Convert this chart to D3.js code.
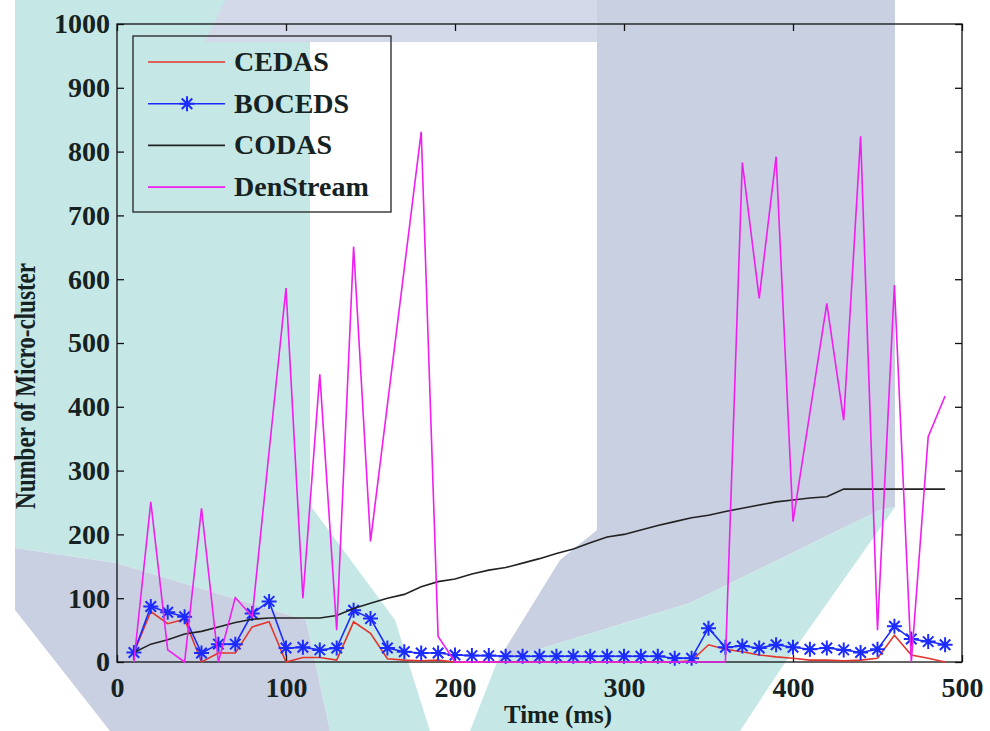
<!doctype html>
<html>
<head>
<meta charset="utf-8">
<script src="https://d3js.org/d3.v7.min.js"></script>
<title>Micro-cluster count over time</title>
<style>
  body { margin: 0; background: #fff; }
  svg text { font-family: "Liberation Serif", "Times New Roman", serif; font-weight: bold; fill: #162222; }
</style>
</head>
<body>
<svg width="990" height="731"></svg>
<script>

// time stamps (ms)
var times = [10,20,30,40,50,60,70,80,90,100,
             110,120,130,140,150,160,170,180,190,200,
             210,220,230,240,250,260,270,280,290,300,
             310,320,330,340,350,360,370,380,390,400,
             410,420,430,440,450,460,470,480,490];

var cedas = [15,79,60,67,0,14,14,55,63,0,
             7,7,3,63,45,5,3,2,3,0,
             0,0,0,0,0,0,0,0,0,0,
             0,0,0,2,27,20,16,11,8,6,
             3,3,2,3,6,42,11,6,0];

var boceds = [15,87,78,71,14,28,28,76,95,22,
              23,19,22,81,68,22,16,14,14,11,
              10,10,9,9,9,9,9,9,9,9,
              9,9,6,6,53,23,25,22,27,23,
              20,22,19,15,20,56,36,32,27];

var codas = [15,28,35,44,48,55,62,67,69,69,
             69,69,73,84,92,100,106,118,126,130,
             138,144,148,155,162,170,177,187,196,200,
             207,214,220,226,230,236,241,246,251,254,
             257,259,271,271,271,271,271,271,271];

var denstream = [0,251,19,0,241,0,101,71,330,586,
                 100,451,50,651,189,403,617,831,40,0,
                 0,0,0,0,0,0,0,0,0,0,
                 0,0,0,0,0,0,783,570,792,220,
                 391,562,379,824,50,591,0,353,417];

var seriesNames = ["CEDAS", "BOCEDS", "CODAS", "DenStream"];
var seriesColors = ["#e3352b", "#1c2cff", "#222222", "#f01ef0"];
var xTicks = [0,100,200,300,400,500];
var yTicks = [0,100,200,300,400,500,600,700,800,900,1000];

var svg = d3.select("svg");

// faint logo watermark behind the chart
var teal = "#c5e8e6", grey = "#c9d0e2";
var shapes = [
  {c: teal, p: [[15,0],[310,0],[310,505],[395,620],[430,731],[330,731],[306,620],[116,563],[15,548]]},
  {c: grey, p: [[15,548],[116,563],[306,620],[330,731],[110,731],[15,610]]},
  {c: "#d4d9ea", p: [[225,0],[597,0],[597,42],[205,42]]},
  {c: grey, p: [[597,0],[895,0],[895,507],[880,510],[690,603],[497,662],[560,560],[597,530]]},
  {c: teal, p: [[497,662],[690,603],[880,510],[895,507],[780,670],[740,731],[470,731]]}
];
svg.append("g").selectAll("polygon")
   .data(shapes)
   .enter().append("polygon")
   .attr("points", function(d) { return d.p.join(" "); })
   .attr("fill", function(d) { return d.c; });

var padL = 117, padR = 962, padT = 24, padB = 662;

var x = d3.scaleLinear().domain([0, 500]).range([padL, padR]);
var y = d3.scaleLinear().domain([0, 1000]).range([padB, padT]);

// frame
svg.append("rect")
   .attr("x", padL).attr("y", padT)
   .attr("width", padR - padL).attr("height", padB - padT)
   .attr("fill", "none").attr("stroke", "#111").attr("stroke-width", 1.3);

function styleAxis(g) {
  g.select(".domain").remove();
  g.selectAll(".tick line").attr("stroke", "#111").attr("stroke-width", 1.3);
  g.selectAll("text").attr("font-size", "28px").attr("fill", "#162222")
   .attr("font-family", "Liberation Serif, serif").attr("font-weight", "bold");
}

svg.append("g")
   .attr("transform", "translate(0," + padB + ")")
   .call(d3.axisBottom(x).tickValues(xTicks).tickSizeInner(-7).tickSizeOuter(0).tickPadding(15).tickFormat(d3.format("d")))
   .call(styleAxis);

svg.append("g")
   .attr("transform", "translate(0," + padT + ")")
   .call(d3.axisTop(x).tickValues(xTicks).tickSizeInner(-7).tickSizeOuter(0).tickFormat(""))
   .call(styleAxis);

svg.append("g")
   .attr("transform", "translate(" + padL + ",0)")
   .call(d3.axisLeft(y).tickValues(yTicks).tickSizeInner(-7).tickSizeOuter(0).tickPadding(7).tickFormat(d3.format("d")))
   .call(styleAxis);

svg.append("g")
   .attr("transform", "translate(" + padR + ",0)")
   .call(d3.axisRight(y).tickValues(yTicks).tickSizeInner(-7).tickSizeOuter(0).tickFormat(""))
   .call(styleAxis);

// axis titles (narrow, condensed lettering as in the source)
svg.append("text")
   .attr("x", 558).attr("y", 723)
   .attr("text-anchor", "middle")
   .attr("font-size", "26px")
   .attr("textLength", 108)
   .attr("lengthAdjust", "spacingAndGlyphs")
   .text("Time (ms)");

svg.append("text")
   .attr("transform", "translate(35,386) rotate(-90)")
   .attr("text-anchor", "middle")
   .attr("font-size", "30px")
   .attr("textLength", 246)
   .attr("lengthAdjust", "spacingAndGlyphs")
   .text("Number of Micro-cluster");

// lines
var allSeries = [cedas, boceds, codas, denstream];
var line = d3.line()
   .x(function(d, i) { return x(times[i]); })
   .y(function(d) { return y(d); });

var plot = svg.append("g");

function star(r) {
  var a = r * 0.7;
  return "M" + (-r) + ",0L" + r + ",0M0," + (-r) + "L0," + r +
         "M" + (-a) + "," + (-a) + "L" + a + "," + a +
         "M" + (-a) + "," + a + "L" + a + "," + (-a);
}

allSeries.forEach(function(s, k) {
  plot.append("path")
      .datum(s)
      .attr("d", line)
      .attr("fill", "none")
      .attr("stroke", seriesColors[k])
      .attr("stroke-width", 1.6);
  if (k == 1) {
    plot.selectAll(".star")
        .data(s)
        .enter().append("path")
        .attr("class", "star")
        .attr("transform", function(d, i) { return "translate(" + x(times[i]) + "," + y(d) + ")"; })
        .attr("d", star(7.5))
        .attr("stroke", seriesColors[k])
        .attr("stroke-width", 2)
        .attr("fill", "none");
  }
});

// legend
var legend = svg.append("g");
legend.append("rect")
   .attr("x", 133).attr("y", 36)
   .attr("width", 258).attr("height", 176)
   .attr("fill", "none").attr("stroke", "#222").attr("stroke-width", 1.3);

var rows = legend.selectAll(".row")
   .data(seriesNames)
   .enter().append("g")
   .attr("class", "row")
   .attr("transform", function(d, i) { return "translate(0," + (62 + i * 41.7) + ")"; });

rows.append("line")
   .attr("x1", 148).attr("x2", 225)
   .attr("stroke", function(d, i) { return seriesColors[i]; })
   .attr("stroke-width", 1.6);

rows.filter(function(d, i) { return i == 1; })
   .append("path")
   .attr("transform", "translate(187,0)")
   .attr("d", star(7.5))
   .attr("stroke", seriesColors[1])
   .attr("stroke-width", 2)
   .attr("fill", "none");

rows.append("text")
   .attr("x", 234).attr("y", 9)
   .attr("font-size", "28px")
   .text(function(d) { return d; });

</script>
</body>
</html>
